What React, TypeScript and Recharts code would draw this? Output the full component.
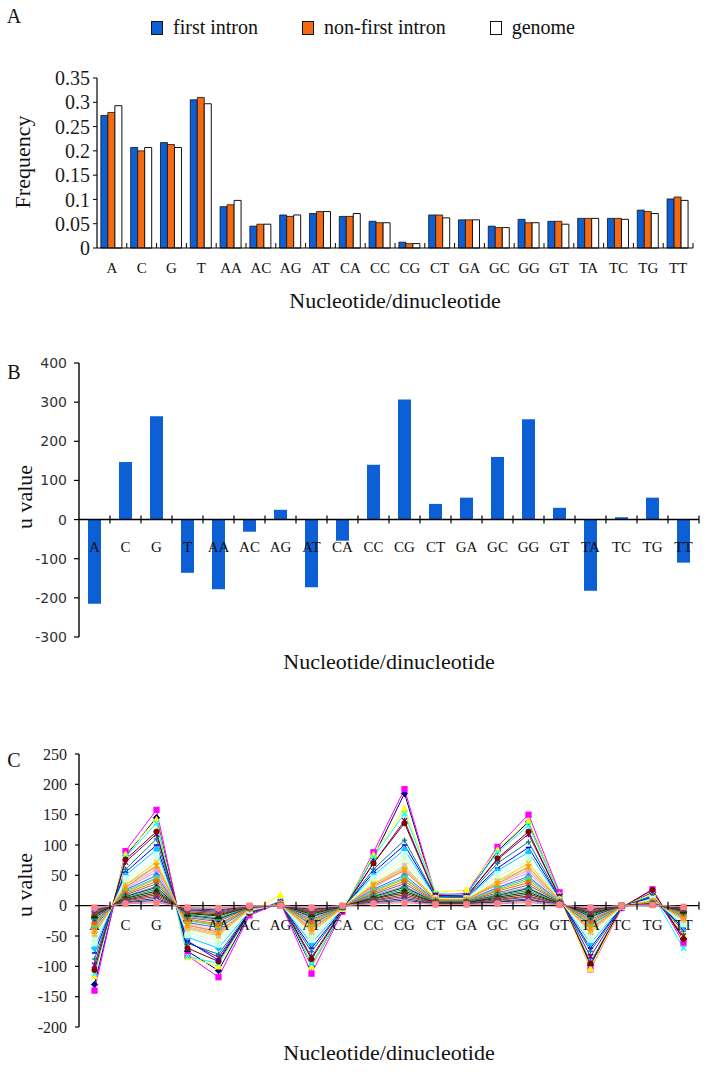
import React from "react";
import {
  Bar,
  BarChart,
  ComposedChart,
  Line,
  ReferenceLine,
  XAxis,
  YAxis,
} from "recharts";

const categories = ["A", "C", "G", "T", "AA", "AC", "AG", "AT", "CA", "CC", "CG", "CT", "GA", "GC", "GG", "GT", "TA", "TC", "TG", "TT"];

// panel A: frequencies
const firstIntron = [0.273, 0.207, 0.217, 0.305, 0.085, 0.045, 0.068, 0.071, 0.065, 0.055, 0.012, 0.068, 0.058, 0.045, 0.059, 0.055, 0.061, 0.061, 0.078, 0.101];
const nonFirstIntron = [0.279, 0.2, 0.213, 0.31, 0.089, 0.049, 0.065, 0.075, 0.065, 0.052, 0.009, 0.068, 0.058, 0.042, 0.052, 0.055, 0.061, 0.061, 0.075, 0.105];
const genome = [0.293, 0.207, 0.207, 0.297, 0.098, 0.049, 0.068, 0.075, 0.071, 0.052, 0.009, 0.062, 0.058, 0.042, 0.052, 0.049, 0.061, 0.059, 0.071, 0.098];
const freqTicks = [0, 0.05, 0.1, 0.15, 0.2, 0.25, 0.3, 0.35];

// panel B: u value first intron vs non-first intron
const uValues = [-215, 147, 264, -136, -178, -31, 25, -173, -54, 140, 307, 40, 56, 160, 256, 30, -182, 6, 56, -110];
const uTicksB = [-300, -200, -100, 0, 100, 200, 300, 400];

// panel C: u values per species
const uSeriesC: number[][] = [
  [-130, 82, 145, -75, -107, -14, 6, -100, -9, 80, 185, 16, 18, 90, 138, 19, -98, -3, 22, -55],
  [-140, 90, 158, -82, -118, -16, 5, -112, -10, 88, 192, 18, 20, 97, 150, 22, -105, -4, 27, -62],
  [-116, 85, 142, -85, -100, -12, 18, -100, -7, 84, 160, 22, 26, 92, 140, 18, -104, -2, 20, -48],
  [-112, 80, 136, -84, -95, -13, 8, -96, -8, 80, 152, 20, 18, 88, 132, 17, -92, -3, 18, -70],
  [-98, 72, 118, -60, -85, -11, 6, -85, -7, 70, 140, 17, 16, 76, 118, 15, -84, -2, 16, -50],
  [-106, 76, 122, -70, -92, -12, 5, -88, -8, 70, 136, 16, 15, 78, 122, 14, -95, -3, 26, -55],
  [-88, 60, 110, -62, -80, -10, 4, -76, -6, 60, 108, 15, 14, 70, 105, 13, -75, -2, 15, -42],
  [-78, 55, 100, -58, -90, -9, 4, -70, -6, 55, 100, 14, 13, 62, 96, 12, -70, -2, 14, -38],
  [-70, 50, 92, -52, -70, -9, 3, -62, -5, 50, 92, 13, 12, 58, 88, 11, -62, -2, 12, -34],
  [-62, 45, 84, -48, -64, -8, 3, -56, -5, 46, 85, 12, 12, 52, 80, 10, -56, -2, 11, -30],
  [-56, 40, 76, -44, -58, -7, 3, -52, -5, 42, 78, 12, 11, 48, 74, 10, -52, -1, 10, -28],
  [-52, 36, 70, -40, -54, -7, 2, -48, -4, 38, 72, 11, 10, 44, 68, 9, -47, -1, 9, -25],
  [-48, 34, 66, -38, -50, -6, 2, -44, -4, 35, 66, 10, 10, 40, 63, 9, -44, -1, 8, -24],
  [-44, 30, 60, -35, -46, -6, 2, -40, -4, 32, 62, 10, 9, 37, 58, 8, -40, -1, 8, -22],
  [-40, 28, 56, -32, -42, -5, 2, -37, -3, 30, 58, 9, 9, 34, 54, 8, -37, -1, 7, -20],
  [-38, 32, 64, -30, -40, -5, 2, -35, -3, 34, 60, 10, 9, 36, 60, 8, -35, -1, 7, -18],
  [-35, 26, 50, -28, -36, -5, 2, -32, -3, 27, 50, 9, 8, 30, 48, 7, -32, -1, 6, -18],
  [-32, 24, 46, -25, -33, -4, 1, -30, -3, 25, 46, 8, 8, 28, 45, 7, -30, -1, 6, -16],
  [-30, 22, 44, -24, -32, -4, 1, -28, -3, 23, 44, 8, 7, 26, 42, 6, -28, -1, 5, -15],
  [-46, 34, 72, -36, -48, -6, 3, -42, -4, 36, 62, 11, 10, 40, 70, 9, -42, -1, 8, -22],
  [-42, 30, 66, -32, -44, -5, 2, -38, -3, 33, 58, 10, 10, 36, 64, 8, -38, -1, 7, -20],
  [-28, 20, 40, -22, -30, -4, 1, -26, -2, 21, 40, 8, 7, 24, 38, 6, -26, -1, 5, -14],
  [-25, 18, 36, -20, -26, -3, 1, -23, -2, 19, 36, 7, 7, 21, 34, 6, -23, -1, 4, -12],
  [-22, 16, 32, -18, -24, -3, 1, -20, -2, 17, 32, 7, 6, 19, 30, 5, -20, 0, 4, -11],
  [-20, 15, 30, -16, -22, -3, 1, -18, -2, 15, 30, 6, 6, 17, 28, 5, -18, 0, 3, -10],
  [-18, 13, 27, -15, -20, -3, 1, -16, -2, 14, 27, 6, 6, 16, 25, 5, -16, 0, 3, -9],
  [-16, 12, 24, -13, -17, -2, 1, -14, -1, 12, 24, 5, 5, 14, 22, 4, -14, 0, 3, -8],
  [-14, 10, 21, -12, -15, -2, 1, -12, -1, 11, 21, 5, 5, 12, 19, 4, -12, 0, 2, -7],
  [-12, 9, 18, -10, -13, -2, 1, -11, -1, 9, 18, 4, 4, 10, 16, 3, -11, 0, 2, -6],
  [-10, 8, 15, -8, -11, -2, 0, -9, -1, 8, 15, 4, 4, 9, 14, 3, -9, 0, 2, -5],
  [-8, 6, 12, -7, -9, -1, 0, -7, -1, 6, 12, 3, 3, 7, 11, 2, -7, 0, 1, -4],
  [-6, 5, 9, -5, -7, -1, 0, -6, -1, 5, 9, 3, 3, 6, 9, 2, -6, 0, 1, -3],
  [-5, 4, 7, -4, -5, -1, 0, -4, 0, 4, 7, 2, 2, 4, 7, 2, -4, 0, 1, -2],
  [-3, 3, 5, -3, -4, 0, 0, -3, 0, 3, 5, 2, 2, 3, 5, 1, -3, 0, 1, -2],
];
const uTicksC = [-200, -150, -100, -50, 0, 50, 100, 150, 200, 250];

const seriesColors = [
  "#000080", "#FF00FF", "#FFFF00", "#00FFFF", "#800080", "#800000", "#008080", "#0000FF",
  "#00CCFF", "#CCFFFF", "#CCFFCC", "#FFFF99", "#99CCFF", "#FF99CC", "#CC99FF", "#FFCC99",
  "#3366FF", "#33CCCC", "#99CC00", "#FFCC00", "#FF9900", "#FF6600", "#666699", "#969696",
  "#003366", "#339966", "#003300", "#333300", "#993300", "#993366", "#333399", "#333333",
  "#9999FF", "#FF8080",
];
const markerShapes = ["diamond", "square", "triangle", "x", "star", "circle", "plus", "dash"];

const BLUE = "#0C5FD5";
const ORANGE = "#F56A10";
const SERIF = "Liberation Serif";

const freqData = categories.map((name, i) => ({
  name,
  first: firstIntron[i],
  nonFirst: nonFirstIntron[i],
  genome: genome[i],
}));
const uData = categories.map((name, i) => ({ name, u: uValues[i] }));
const cData = categories.map((name, i) => {
  const row: Record<string, number | string> = { name };
  uSeriesC.forEach((s, k) => {
    row[`s${k}`] = s[i];
  });
  return row;
});

const Marker = ({ cx, cy, color, shape }: { cx: number; cy: number; color: string; shape: string }) => {
  const r = 2.6;
  if (cx == null || cy == null) return null;
  switch (shape) {
    case "diamond":
      return <polygon points={`${cx},${cy - r - 0.6} ${cx + r + 0.6},${cy} ${cx},${cy + r + 0.6} ${cx - r - 0.6},${cy}`} fill={color} stroke={color} />;
    case "square":
      return <rect x={cx - r} y={cy - r} width={2 * r} height={2 * r} fill={color} stroke={color} />;
    case "triangle":
      return <polygon points={`${cx},${cy - r - 0.5} ${cx + r + 0.5},${cy + r} ${cx - r - 0.5},${cy + r}`} fill={color} stroke={color} />;
    case "x":
      return (
        <g stroke={color} strokeWidth={1.3}>
          <line x1={cx - r} y1={cy - r} x2={cx + r} y2={cy + r} />
          <line x1={cx - r} y1={cy + r} x2={cx + r} y2={cy - r} />
        </g>
      );
    case "star":
      return (
        <g stroke={color} strokeWidth={1.3}>
          <line x1={cx - r} y1={cy - r} x2={cx + r} y2={cy + r} />
          <line x1={cx - r} y1={cy + r} x2={cx + r} y2={cy - r} />
          <line x1={cx} y1={cy - r - 0.5} x2={cx} y2={cy + r + 0.5} />
        </g>
      );
    case "circle":
      return <circle cx={cx} cy={cy} r={r} fill={color} stroke={color} />;
    case "plus":
      return (
        <g stroke={color} strokeWidth={1.3}>
          <line x1={cx - r} y1={cy} x2={cx + r} y2={cy} />
          <line x1={cx} y1={cy - r} x2={cx} y2={cy + r} />
        </g>
      );
    default:
      return <line x1={cx - r} y1={cy} x2={cx + r} y2={cy} stroke={color} strokeWidth={1.5} />;
  }
};

// category tick for panel A (ticks point up, between categories)
const FreqTick = ({ x, y, payload }: any) => (
  <g>
    <line x1={x + 14.9} x2={x + 14.9} y1={y - 5} y2={y} stroke="#000" strokeWidth={1} />
    <text x={x} y={y + 20} textAnchor="middle" dominantBaseline="central" fontFamily={SERIF} fontSize={15} fill="#111">
      {payload.value}
    </text>
  </g>
);

// category labels drawn on the zero line (panels B and C)
const zeroLabel = (offset: number) => (p: any) => (
  <g key={`lab-${p.index}`}>
    <line x1={p.cx + 15.5} x2={p.cx + 15.5} y1={p.cy - 4} y2={p.cy + 4} stroke="#000" strokeWidth={1.2} />
    <text x={p.cx} y={p.cy + offset} textAnchor="middle" dominantBaseline="central" fontFamily={SERIF} fontSize={15} fill="#111">
      {p.payload.name}
    </text>
  </g>
);

const Abs = ({ x, y, rotate, size, children }: any) => (
  <div
    style={{
      position: "absolute",
      left: x,
      top: y,
      transform: `translate(-50%, -50%)${rotate ? " rotate(-90deg)" : ""}`,
      fontFamily: SERIF,
      fontSize: size,
      color: "#111",
      whiteSpace: "nowrap",
      lineHeight: 1,
    }}
  >
    {children}
  </div>
);

const LegendItem = ({ color, label }: { color: string; label: string }) => (
  <div style={{ display: "flex", alignItems: "center" }}>
    <div style={{ width: 10, height: 12, background: color, border: "1.3px solid #111", marginRight: 10 }} />
    <span style={{ fontFamily: SERIF, fontSize: 20, color: "#111" }}>{label}</span>
  </div>
);

export default function App() {
  return (
    <div style={{ position: "absolute", left: 0, top: 0, width: 709, height: 1072, background: "#fff", fontFamily: SERIF }}>
      <Abs x={14} y={16} size={20}>A</Abs>
      <div style={{ position: "absolute", left: 151, top: 16, display: "flex", gap: 44 }}>
        <LegendItem color={BLUE} label="first intron" />
        <LegendItem color={ORANGE} label="non-first intron" />
        <LegendItem color="#fff" label="genome" />
      </div>

      <div style={{ position: "absolute", left: 0, top: 0 }}>
        <BarChart
          width={709}
          height={320}
          data={freqData}
          margin={{ top: 78, right: 16, bottom: 42, left: 37 }}
          barCategoryGap="13%"
          barGap={0}
        >
          <XAxis
            dataKey="name"
            interval={0}
            height={30}
            tickLine={false}
            tickSize={0}
            tickMargin={0}
            axisLine={{ stroke: "#000", strokeWidth: 1.2 }}
            tick={<FreqTick />}
          />
          <YAxis
            width={60}
            domain={[0, 0.35]}
            ticks={freqTicks}
            interval={0}
            tickSize={4}
            tickMargin={3}
            axisLine={{ stroke: "#000", strokeWidth: 1.2 }}
            tickLine={{ stroke: "#000" }}
            tick={{ fontFamily: SERIF, fontSize: 20, fill: "#1a1a1a" }}
            tickFormatter={(v: number) => String(v)}
          />
          <Bar dataKey="first" fill={BLUE} stroke="#111" strokeWidth={0.8} isAnimationActive={false} />
          <Bar dataKey="nonFirst" fill={ORANGE} stroke="#111" strokeWidth={0.8} isAnimationActive={false} />
          <Bar dataKey="genome" fill="#fff" stroke="#111" strokeWidth={1} isAnimationActive={false} />
        </BarChart>
      </div>
      <Abs x={23} y={162} size={22} rotate>Frequency</Abs>
      <Abs x={395} y={301} size={22}>Nucleotide/dinucleotide</Abs>

      <Abs x={14} y={372} size={20}>B</Abs>
      <div style={{ position: "absolute", left: 0, top: 330 }}>
        <ComposedChart width={709} height={330} data={uData} margin={{ top: 33, right: 10, bottom: 23, left: 29 }}>
          <XAxis dataKey="name" hide scale="band" />
          <YAxis
            width={50}
            domain={[-300, 400]}
            ticks={uTicksB}
            interval={0}
            tickSize={5}
            tickMargin={7}
            axisLine={{ stroke: "#000", strokeWidth: 1.4 }}
            tickLine={{ stroke: "#000", strokeWidth: 1.2 }}
            tick={{ fontFamily: "DejaVu Sans", fontSize: 14, fill: "#333" }}
          />
          <Bar dataKey="u" fill={BLUE} barSize={13} isAnimationActive={false} />
          <ReferenceLine y={0} stroke="#000" strokeWidth={1.4} />
          <Line dataKey={() => 0} stroke="none" dot={zeroLabel(27)} activeDot={false} isAnimationActive={false} />
        </ComposedChart>
      </div>
      <Abs x={25} y={497} size={22} rotate>u value</Abs>
      <Abs x={389} y={662} size={22}>Nucleotide/dinucleotide</Abs>

      <Abs x={14} y={760} size={20}>C</Abs>
      <div style={{ position: "absolute", left: 0, top: 720 }}>
        <ComposedChart width={709} height={352} data={cData} margin={{ top: 34, right: 10, bottom: 45, left: 29 }}>
          <XAxis dataKey="name" hide scale="band" />
          <YAxis
            width={50}
            domain={[-200, 250]}
            ticks={uTicksC}
            interval={0}
            tickSize={4}
            tickMargin={8}
            axisLine={{ stroke: "#000", strokeWidth: 1.4 }}
            tickLine={{ stroke: "#000", strokeWidth: 1.2 }}
            tick={{ fontFamily: SERIF, fontSize: 16, fill: "#222" }}
          />
          <ReferenceLine y={0} stroke="#000" strokeWidth={1.4} />
          <Line dataKey={() => 0} stroke="none" dot={zeroLabel(19)} activeDot={false} isAnimationActive={false} />
          {uSeriesC.map((_, k) => {
            const color = seriesColors[k % seriesColors.length];
            const shape = markerShapes[k % markerShapes.length];
            return (
              <Line
                key={k}
                dataKey={`s${k}`}
                stroke={color}
                strokeWidth={1}
                dot={(p: any) => <Marker key={`m${k}-${p.index}`} cx={p.cx} cy={p.cy} color={color} shape={shape} />}
                activeDot={false}
                isAnimationActive={false}
              />
            );
          })}
        </ComposedChart>
      </div>
      <Abs x={25} y={885} size={22} rotate>u value</Abs>
      <Abs x={389} y={1053} size={22}>Nucleotide/dinucleotide</Abs>
    </div>
  );
}
